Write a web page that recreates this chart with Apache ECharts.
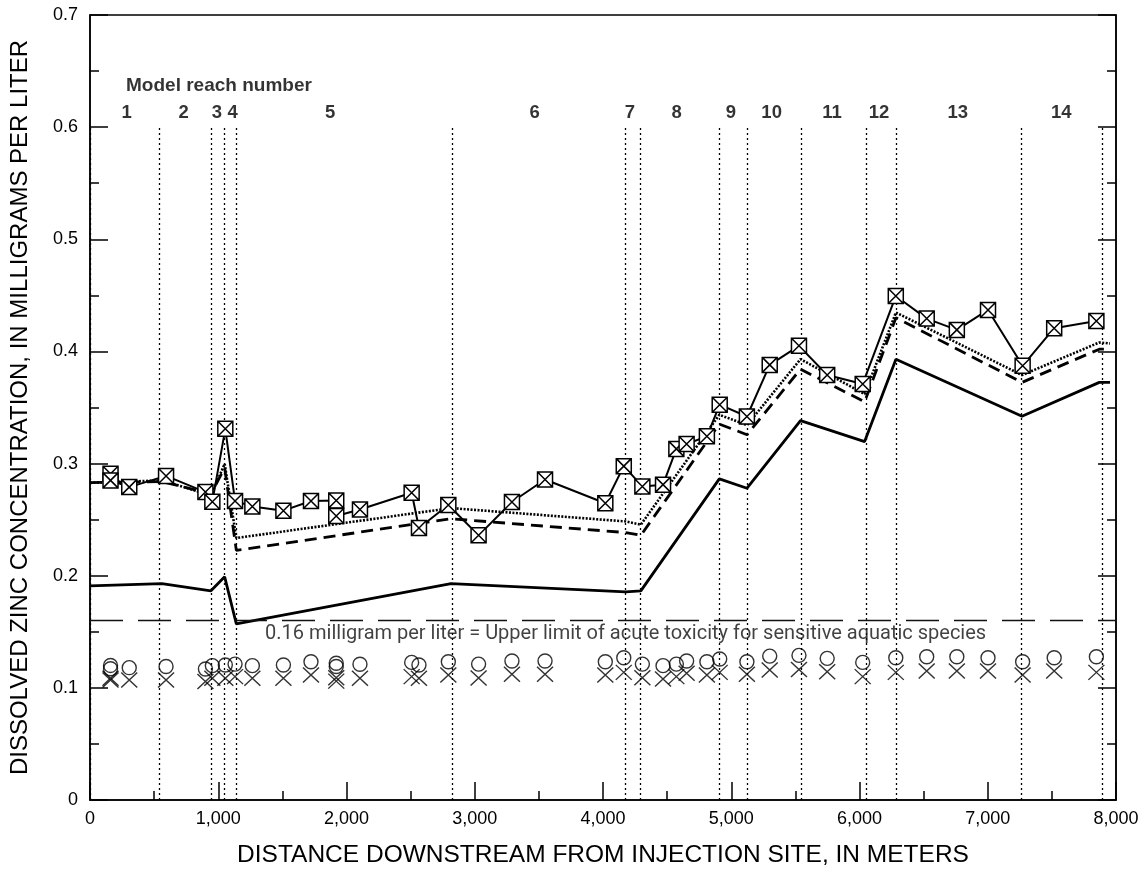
<!DOCTYPE html>
<html><head><meta charset="utf-8">
<script src="https://cdn.jsdelivr.net/npm/echarts@6/dist/echarts.min.js"></script>
<style>html,body{margin:0;padding:0;background:#fff}#c{width:1146px;height:873px}</style>
</head><body><div id="c"></div>
<script>
// ---------- data ----------
const reachNumbers = ['1','2','3','4','5','6','7','8','9','10','11','12','13','14'];
const reachBoundaries = [0, 540, 943, 1050, 1141, 2825, 4177, 4289, 4907, 5123, 5544, 6051, 6285, 7262, 7891];
const reachLabelAt = [285, 730, 989, 1112, 1873, 3467, 4210, 4575, 4998, 5315, 5786, 6152, 6766, 7574];
const reachTitle = 'Model reach number';

// sampling sites (meters downstream)
const siteDist = [160, 160, 306, 593, 900, 954, 1055, 1131, 1266, 1508, 1723, 1920, 1920, 2105, 2508, 2565,
  2794, 3030, 3290, 3548, 4018, 4162, 4307, 4468, 4572, 4652, 4810, 4910, 5122, 5300, 5528, 5748, 6025,
  6283, 6524, 6759, 7002, 7272, 7518, 7847];
// boxed-X symbols
const siteBoxed = [0.291, 0.285, 0.279, 0.289, 0.2746, 0.266, 0.331, 0.2666, 0.2618, 0.258, 0.2666, 0.267, 0.2532,
  0.259, 0.274, 0.2425, 0.263, 0.236, 0.2657, 0.2858, 0.2646, 0.2977, 0.2796, 0.2812, 0.3131, 0.3175, 0.3243,
  0.3525, 0.342, 0.388, 0.405, 0.379, 0.371, 0.4494, 0.4293, 0.4192, 0.437, 0.3872, 0.4207, 0.4272];
// open circles
const siteCircle = [0.120, 0.117, 0.118, 0.119, 0.1168, 0.1198, 0.1204, 0.1212, 0.1198, 0.1204, 0.1233, 0.1219, 0.119,
  0.121, 0.1227, 0.1204, 0.1233, 0.1212, 0.1239, 0.1239, 0.1233, 0.1269, 0.1212, 0.1198, 0.1212, 0.1239, 0.1233,
  0.1257, 0.1233, 0.1283, 0.129, 0.1263, 0.1227, 0.1269, 0.1278, 0.1278, 0.1269, 0.1233, 0.1269, 0.1278];
// x symbols
const siteCross = [0.1085, 0.107, 0.107, 0.107, 0.1056, 0.1085, 0.1085, 0.110, 0.1085, 0.1085, 0.1115, 0.1091, 0.106,
  0.1085, 0.110, 0.1085, 0.1115, 0.1088, 0.1121, 0.1121, 0.1115, 0.1138, 0.1091, 0.1079, 0.110, 0.113, 0.1115,
  0.1138, 0.1121, 0.1159, 0.1163, 0.1144, 0.110, 0.1138, 0.115, 0.115, 0.115, 0.1115, 0.115, 0.1138];

// simulated profiles
const modelDist   = [0, 560, 943, 1050, 1141, 2815, 4177, 4295, 4907, 5123, 5540, 6040, 6284, 7267, 7870, 7953];
const modelSolid  = [0.191, 0.193, 0.1865, 0.199, 0.157, 0.193, 0.1856, 0.1865, 0.2864, 0.278, 0.3383, 0.3196, 0.3931, 0.3422, 0.3724, 0.3724];
const modelDotted = [0.2828, 0.285, 0.2716, 0.2997, 0.2336, 0.2603, 0.2484, 0.2455, 0.3435, 0.3343, 0.3931, 0.362, 0.4347, 0.3789, 0.408, 0.4071];
const modelDashed = [0.283, 0.284, 0.273, 0.296, 0.2226, 0.2508, 0.2385, 0.236, 0.3352, 0.3257, 0.3842, 0.355, 0.430, 0.3724, 0.402, 0.402];

const toxicityLimit = 0.16;
const toxicityText = '0.16 milligram per liter = Upper limit of acute toxicity for sensitive aquatic species';
const xTitle = 'DISTANCE DOWNSTREAM FROM INJECTION SITE, IN METERS';
const yTitle = 'DISSOLVED ZINC CONCENTRATION, IN MILLIGRAMS PER LITER';

// ---------- chart ----------
const zip = (xs, ys) => xs.map((x, i) => [x, ys[i]]);
const BLACK = '#000';
const FONT = 'Liberation Sans';

const chart = echarts.init(document.getElementById('c'), null, {renderer: 'canvas'});
const noEmph = {disabled: true};

const option = {
  animation: false,
  backgroundColor: '#fff',
  grid: {left: 90, right: 30, top: 15, bottom: 71, show: true, borderColor: BLACK, borderWidth: 1.5, backgroundColor: 'transparent'},
  xAxis: {
    type: 'value', min: 0, max: 8000, interval: 1000,
    name: xTitle, nameLocation: 'middle', nameGap: 43,
    nameTextStyle: {fontFamily: FONT, fontSize: 24.5, color: BLACK},
    axisLine: {lineStyle: {color: BLACK, width: 1.5}},
    axisTick: {inside: true, length: 18, lineStyle: {color: BLACK, width: 1.5}},
    minorTick: {show: true, splitNumber: 2, length: 9, lineStyle: {color: BLACK, width: 1.5}},
    splitLine: {show: false}, minorSplitLine: {show: false},
    axisLabel: {fontFamily: FONT, fontSize: 18, color: BLACK, margin: 10,
      formatter: v => v === 0 ? '0' : v.toLocaleString('en-US')}
  },
  yAxis: [{
    type: 'value', min: 0, max: 0.7, interval: 0.1,
    name: yTitle, nameLocation: 'middle', nameGap: 58,
    nameTextStyle: {fontFamily: FONT, fontSize: 24, color: BLACK},
    axisLine: {lineStyle: {color: BLACK, width: 1.5}},
    axisTick: {inside: true, length: 18, lineStyle: {color: BLACK, width: 1.5}},
    minorTick: {show: true, splitNumber: 2, length: 9, lineStyle: {color: BLACK, width: 1.5}},
    splitLine: {show: false}, minorSplitLine: {show: false},
    axisLabel: {fontFamily: FONT, fontSize: 18, color: BLACK, margin: 12,
      formatter: v => v === 0 ? '0' : v.toFixed(1)}
  }, {
    type: 'value', min: 0, max: 0.7, interval: 0.1, position: 'right',
    axisLine: {show: true, lineStyle: {color: BLACK, width: 1.5}},
    axisTick: {show: true, inside: true, length: 18, lineStyle: {color: BLACK, width: 1.5}},
    minorTick: {show: true, splitNumber: 2, length: 9, lineStyle: {color: BLACK, width: 1.5}},
    splitLine: {show: false}, axisLabel: {show: false}
  }],
  series: [
    {
      type: 'line', name: 'solid', data: zip(modelDist, modelSolid), symbol: 'none',
      lineStyle: {color: BLACK, width: 2.8}, emphasis: noEmph, z: 3,
      markLine: {
        silent: true, symbol: ['none', 'none'], label: {show: false}, animation: false,
        emphasis: noEmph,
        data: reachBoundaries.map(b => [
          {coord: [b, 0], lineStyle: {color: BLACK, type: [2, 3], width: 1.3}},
          {coord: [b, 0.6]}
        ]).concat([
          {yAxis: toxicityLimit, lineStyle: {color: '#111', type: [33, 15], width: 1.3}}
        ])
      }
    },
    {
      type: 'line', name: 'dotted', data: zip(modelDist, modelDotted), symbol: 'none',
      lineStyle: {color: BLACK, width: 2.6, type: [2, 1.5]}, emphasis: noEmph, z: 3
    },
    {
      type: 'line', name: 'dashed', data: zip(modelDist, modelDashed), symbol: 'none',
      lineStyle: {color: BLACK, width: 2.8, type: [12, 7]}, emphasis: noEmph, z: 3
    },
    {
      type: 'scatter', name: 'cross', data: zip(siteDist, siteCross),
      symbol: 'path://M0,0L10,10M10,0L0,10', symbolSize: [16, 15],
      itemStyle: {color: 'rgba(0,0,0,0)', borderColor: BLACK, borderWidth: 1.4},
      emphasis: noEmph, z: 4
    },
    {
      type: 'scatter', name: 'circle', data: zip(siteDist, siteCircle),
      symbol: 'circle', symbolSize: 14,
      itemStyle: {color: 'rgba(0,0,0,0)', borderColor: BLACK, borderWidth: 1.4},
      emphasis: noEmph, z: 4
    },
    {
      type: 'line', name: 'boxed', data: zip(siteDist, siteBoxed),
      symbol: 'path://M0,0L10,0L10,10L0,10Z M0,0L10,10M10,0L0,10', symbolSize: 15, showSymbol: true,
      itemStyle: {color: '#fff', borderColor: BLACK, borderWidth: 1.5},
      lineStyle: {color: BLACK, width: 2}, emphasis: noEmph, z: 5
    },
    {
      type: 'scatter', name: 'reachLabels', silent: true, symbolSize: 0,
      data: reachLabelAt.map(d => [d, 0.613]),
      label: {show: true, position: 'inside', color: BLACK, fontFamily: FONT, fontWeight: 'bold', fontSize: 18.5,
        formatter: p => reachNumbers[p.dataIndex]},
      emphasis: noEmph, z: 6
    },
    {
      type: 'scatter', name: 'annotations', silent: true, symbolSize: 0,
      data: [
        {value: [281, 0.637], label: {fontFamily: FONT, fontWeight: 'bold', fontSize: 19}},
        {value: [1365, 0.1476], label: {fontFamily: 'Roboto', fontSize: 20, color: '#111'}}
      ],
      label: {show: true, position: 'inside', align: 'left', color: BLACK,
        formatter: p => p.dataIndex === 0 ? reachTitle : toxicityText},
      emphasis: noEmph, z: 6
    }
  ]
};
chart.setOption(option);
</script>
</body></html>
